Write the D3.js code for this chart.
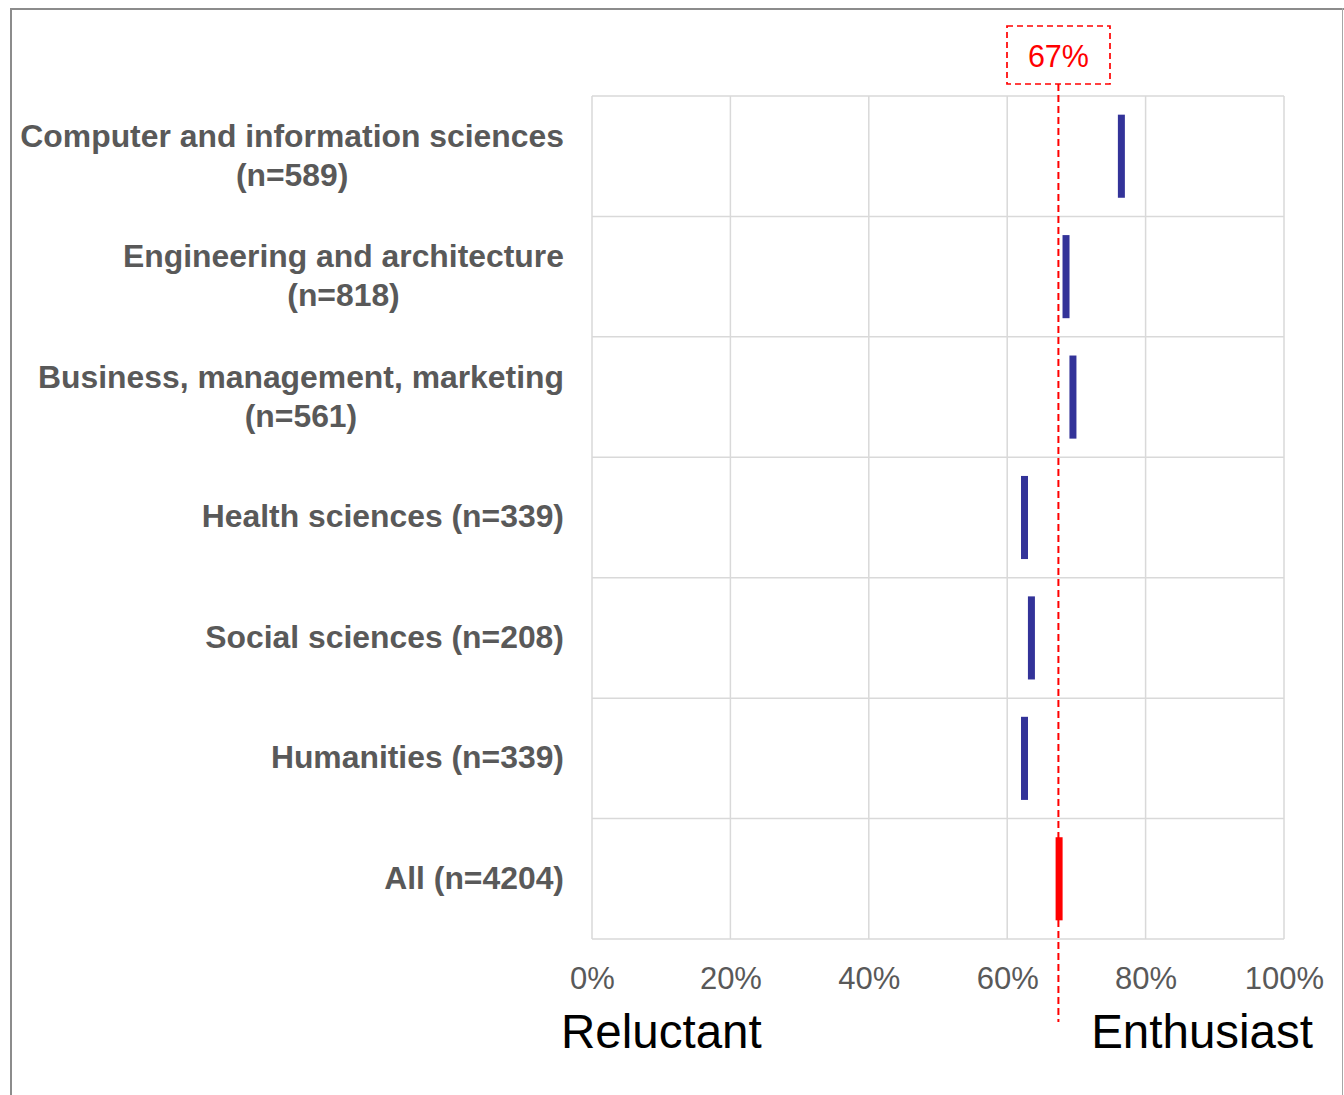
<!DOCTYPE html>
<html>
<head>
<meta charset="utf-8">
<script src="https://cdn.jsdelivr.net/npm/d3@7"></script>
<style>
html,body{margin:0;padding:0;background:#fff;}
svg{display:block;}
</style>
</head>
<body>
<svg id="chart" width="1344" height="1095"></svg>
<script>
// ---- data ----
const categories = [
  "Computer and information sciences|(n=589)",
  "Engineering and architecture|(n=818)",
  "Business, management, marketing|(n=561)",
  "Health sciences (n=339)",
  "Social sciences (n=208)",
  "Humanities (n=339)",
  "All (n=4204)"
];
const values = [0.765, 0.685, 0.695, 0.625, 0.635, 0.625, 0.675];
const isTotal = [false, false, false, false, false, false, true];
const referenceValue = 0.674;
const referenceLabel = "67%";
const tickValues = [0, 0.2, 0.4, 0.6, 0.8, 1.0];
const tickLabels = ["0%", "20%", "40%", "60%", "80%", "100%"];
const leftLabel = "Reluctant";
const rightLabel = "Enthusiast";

// ---- layout ----
const svg = d3.select("#chart");
const L = 592, R = 1284, T = 96, B = 939;
const x = d3.scaleLinear().domain([0, 1]).range([L, R]);
const y = d3.scaleBand().domain(categories).range([T, B]).padding(0);
const gridColor = "#d9d9d9";
const font = "Arial, 'Liberation Sans', sans-serif";

// frame
svg.append("line").attr("x1", 10).attr("x2", 1344).attr("y1", 9).attr("y2", 9)
  .attr("stroke", "#8c8c8c").attr("stroke-width", 2);
svg.append("line").attr("x1", 11).attr("x2", 11).attr("y1", 8).attr("y2", 1095)
  .attr("stroke", "#8c8c8c").attr("stroke-width", 2);
svg.append("line").attr("x1", 1342.5).attr("x2", 1342.5).attr("y1", 8).attr("y2", 1095)
  .attr("stroke", "#a6a6a6").attr("stroke-width", 1);

// grid
const grid = svg.append("g");
grid.selectAll("line.v").data(tickValues).join("line")
  .attr("x1", d => x(d)).attr("x2", d => x(d)).attr("y1", T).attr("y2", B)
  .attr("stroke", gridColor).attr("stroke-width", 1.5);
const hb = categories.map(c => y(c)).concat([B]);
grid.selectAll("line.h").data(hb).join("line")
  .attr("x1", L).attr("x2", R).attr("y1", d => d).attr("y2", d => d)
  .attr("stroke", gridColor).attr("stroke-width", 1.5);

// x axis tick labels
const xAxis = d3.axisBottom(x).tickValues(tickValues)
  .tickFormat((d, i) => tickLabels[i]).tickSize(0).tickPadding(0);
const ax = svg.append("g").attr("transform", `translate(0,${B})`).call(xAxis);
ax.select(".domain").remove();
ax.selectAll("text").attr("dy", null).attr("y", 50)
  .attr("font-family", font).attr("font-size", 31).attr("fill", "#595959");

// y labels
const lab = svg.append("g");
const sx = 1.045;
categories.forEach(c => {
  const lines = c.split("|");
  const cy = y(c) + y.bandwidth() / 2;
  const n = lines.length;
  const t = lab.append("text").attr("text-anchor", "middle")
    .attr("font-family", font).attr("font-weight", "bold")
    .attr("font-size", 30.5).attr("fill", "#595959");
  lines.forEach((ln, i) => {
    t.append("tspan").attr("x", 0)
      .attr("y", cy + 10 + (i - (n - 1) / 2) * 39).text(ln);
  });
  const bb = t.node().getBBox();
  const right = 564;
  t.attr("transform", `translate(${right - bb.width * sx / 2},0) scale(${sx},1)`);
});

// markers
const mh = y.bandwidth() * 0.69;
svg.append("g").selectAll("rect").data(categories).join("rect")
  .attr("x", (d, i) => x(values[i]) - 3.5)
  .attr("width", 7)
  .attr("y", d => y(d) + (y.bandwidth() - mh) / 2)
  .attr("height", mh)
  .attr("fill", (d, i) => isTotal[i] ? "#ff0000" : "#333399");

// reference line and label
const rx = x(referenceValue);
svg.append("line").attr("x1", rx).attr("x2", rx).attr("y1", 84).attr("y2", 1022)
  .attr("stroke", "#ff0000").attr("stroke-width", 2).attr("stroke-dasharray", "7,4");
svg.append("rect").attr("x", 1007).attr("y", 26).attr("width", 103).attr("height", 58)
  .attr("fill", "#fff").attr("stroke", "#ff0000").attr("stroke-width", 1.7)
  .attr("stroke-dasharray", "6,4");
svg.append("text").attr("x", rx).attr("y", 67).attr("text-anchor", "middle")
  .attr("font-family", font).attr("font-size", 30.5).attr("fill", "#ff0000")
  .text(referenceLabel);

// end labels
svg.append("text").attr("x", 561).attr("y", 1048).attr("text-anchor", "start")
  .attr("font-family", font).attr("font-size", 47.5).attr("fill", "#000").text(leftLabel);
svg.append("text").attr("x", 1313).attr("y", 1048).attr("text-anchor", "end")
  .attr("font-family", font).attr("font-size", 47.5).attr("fill", "#000").text(rightLabel);
</script>
</body>
</html>
